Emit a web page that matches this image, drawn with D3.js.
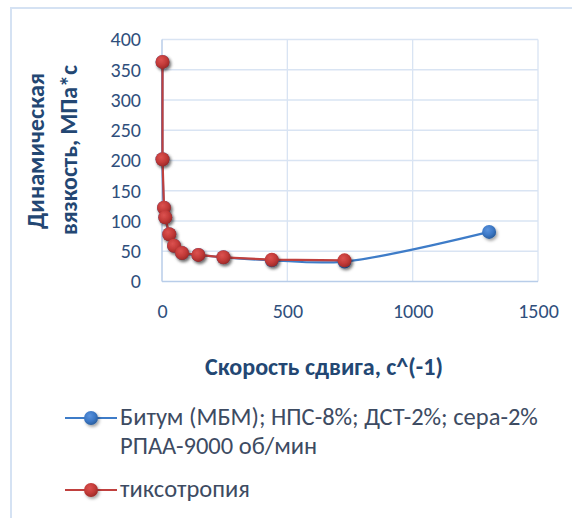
<!DOCTYPE html>
<html>
<head>
<meta charset="utf-8">
<script src="https://cdn.jsdelivr.net/npm/d3@7"></script>
<style>
  html, body { margin: 0; padding: 0; background: #ffffff; }
  svg { display: block; }
  text { font-family: Carlito, Lato, "Open Sans", sans-serif; }
</style>
</head>
<body>
<svg id="chart" width="572" height="518"></svg>
<script>
// Shear rate, 1/s
const shearRate = [2, 2, 8, 13, 29, 48, 80, 145, 245, 438, 728];
const blueShear = [2, 2, 8, 13, 29, 48, 80, 145, 245, 438, 728, 1305];
// Dynamic viscosity, mPa*s
const blueViscosity = [363, 202, 122, 106, 78, 59, 47, 44, 40, 35, 33, 82];
const redViscosity = [363, 202, 122, 106, 78, 59, 47, 44, 40, 36, 35];

const xTicks = [0, 500, 1000, 1500];
const yTicks = [0, 50, 100, 150, 200, 250, 300, 350, 400];

const seriesNames = ["Битум (МБМ); НПС-8%; ДСТ-2%; сера-2%", "РПАА-9000 об/мин"];
const thixoName = "тиксотропия";
const xTitle = "Скорость сдвига, с^(-1)";
const yTitle = ["Динамическая", "вязкость, МПа*с"];

const svg = d3.select("#chart");
const defs = svg.append("defs");

// scale a text's font size so that it spans the given width
function fitWidth(sel, width) {
  const node = sel.node();
  const base = parseFloat(sel.style("font-size"));
  const w = node.getComputedTextLength();
  if (w > 0) sel.style("font-size", (base * width / w).toFixed(2) + "px");
  return sel;
}

// drop shadow for markers
const f = defs.append("filter").attr("id", "shadow")
  .attr("x", "-50%").attr("y", "-50%").attr("width", "200%").attr("height", "200%");
f.append("feDropShadow").attr("dx", 1.5).attr("dy", 2).attr("stdDeviation", 1.4)
  .attr("flood-color", "#000").attr("flood-opacity", 0.35);

function markerGradient(id, light, mid, dark) {
  const g = defs.append("radialGradient").attr("id", id)
    .attr("cx", "40%").attr("cy", "35%").attr("r", "65%");
  g.append("stop").attr("offset", "0%").attr("stop-color", light);
  g.append("stop").attr("offset", "60%").attr("stop-color", mid);
  g.append("stop").attr("offset", "100%").attr("stop-color", dark);
}
markerGradient("gBlue", "#5b93dd", "#3c78c6", "#2b5f9f");
markerGradient("gRed", "#dc5250", "#c23a38", "#9e2a28");

// outer chart frame
svg.append("rect").attr("x", 11).attr("y", 8).attr("width", 600).attr("height", 560)
  .attr("fill", "none").attr("stroke", "#d5e2f3").attr("stroke-width", 2);

const plot = { left: 162, right: 538, top: 39.5, bottom: 281.5 };
const x = d3.scaleLinear().domain([0, 1500]).range([plot.left, plot.right]);
const y = d3.scaleLinear().domain([0, 400]).range([plot.bottom, plot.top]);

const gridColor = "#d9e4f3";
const tickColor = "#2f4f7c";

// horizontal gridlines
svg.append("g").selectAll("line").data(yTicks.filter(d => d > 0)).join("line")
  .attr("x1", plot.left).attr("x2", plot.right)
  .attr("y1", d => y(d)).attr("y2", d => y(d))
  .attr("stroke", gridColor).attr("stroke-width", 1.3);
// vertical gridlines
svg.append("g").selectAll("line").data(xTicks.filter(d => d > 0)).join("line")
  .attr("x1", d => x(d)).attr("x2", d => x(d))
  .attr("y1", plot.top).attr("y2", plot.bottom)
  .attr("stroke", gridColor).attr("stroke-width", 1.3);
// axis lines
svg.append("line").attr("x1", plot.left).attr("x2", plot.left)
  .attr("y1", plot.top).attr("y2", plot.bottom)
  .attr("stroke", "#b8cde9").attr("stroke-width", 1.5);
svg.append("line").attr("x1", plot.left).attr("x2", plot.right)
  .attr("y1", plot.bottom).attr("y2", plot.bottom)
  .attr("stroke", "#b8cde9").attr("stroke-width", 1.5);

// axes (labels only)
const yAxis = d3.axisLeft(y).tickValues(yTicks).tickFormat(d3.format("d")).tickSize(0).tickPadding(0);
const gy = svg.append("g").attr("transform", `translate(${plot.left - 21},0)`).call(yAxis);
gy.select(".domain").remove();
gy.selectAll("text").attr("fill", tickColor).style("font-size", "20px")
  .style("font-family", "Carlito, Lato, 'Open Sans', sans-serif");

const xAxis = d3.axisBottom(x).tickValues(xTicks).tickFormat(d3.format("d")).tickSize(0).tickPadding(0);
const gx = svg.append("g").attr("transform", `translate(0,${plot.bottom + 22})`).call(xAxis);
gx.select(".domain").remove();
gx.selectAll("text").attr("fill", tickColor).style("font-size", "20px")
  .style("font-family", "Carlito, Lato, 'Open Sans', sans-serif");

// axis titles
const titleColor = "#234773";
fitWidth(svg.append("text").attr("x", 324).attr("y", 375).attr("text-anchor", "middle")
  .attr("fill", titleColor).attr("font-weight", "bold").style("font-size", "18px")
  .text(xTitle), 238);
const yt1 = svg.append("text").attr("transform", "translate(44,151) rotate(-90)")
  .attr("text-anchor", "middle").attr("fill", titleColor)
  .attr("font-weight", "bold").style("font-size", "18px").text(yTitle[0]);
fitWidth(yt1, 156);
const yt2 = svg.append("text").attr("transform", "translate(77,150) rotate(-90)")
  .attr("text-anchor", "middle").attr("fill", titleColor)
  .attr("font-weight", "bold").style("font-size", "18px").text(yTitle[1]);
fitWidth(yt2, 170);

// series
const blueData = blueShear.map((s, i) => [s, blueViscosity[i]]);
const redData = shearRate.map((s, i) => [s, redViscosity[i]]);

const blueLine = d3.line().x(d => x(d[0])).y(d => y(d[1])).curve(d3.curveCatmullRom.alpha(0.5));
const redLine = d3.line().x(d => x(d[0])).y(d => y(d[1]));

svg.append("path").datum(blueData).attr("d", blueLine)
  .attr("fill", "none").attr("stroke", "#3e7cc8").attr("stroke-width", 2.2);
svg.append("g").selectAll("circle").data(blueData).join("circle")
  .attr("cx", d => x(d[0])).attr("cy", d => y(d[1])).attr("r", 7)
  .attr("fill", "url(#gBlue)").attr("filter", "url(#shadow)");

svg.append("path").datum(redData).attr("d", redLine)
  .attr("fill", "none").attr("stroke", "#c0403e").attr("stroke-width", 2.2);
svg.append("g").selectAll("circle").data(redData).join("circle")
  .attr("cx", d => x(d[0])).attr("cy", d => y(d[1])).attr("r", 7)
  .attr("fill", "url(#gRed)").attr("filter", "url(#shadow)");

// legend
const legendColor = "#3d4b62";
const legend = svg.append("g");
function legendKey(yPos, lineColor, grad) {
  legend.append("line").attr("x1", 65).attr("x2", 117).attr("y1", yPos).attr("y2", yPos)
    .attr("stroke", lineColor).attr("stroke-width", 1.8);
  legend.append("circle").attr("cx", 91).attr("cy", yPos).attr("r", 7)
    .attr("fill", grad).attr("filter", "url(#shadow)");
}
legendKey(418, "#3e7cc8", "url(#gBlue)");
legendKey(490, "#c0403e", "url(#gRed)");
const l1 = legend.append("text").attr("x", 120).attr("y", 425).attr("fill", legendColor)
  .style("font-size", "18px").text(seriesNames[0]);
fitWidth(l1, 418);
legend.append("text").attr("x", 120).attr("y", 454).attr("fill", legendColor)
  .style("font-size", l1.style("font-size")).text(seriesNames[1]);
legend.append("text").attr("x", 120).attr("y", 497).attr("fill", legendColor)
  .style("font-size", l1.style("font-size")).text(thixoName);
</script>
</body>
</html>
